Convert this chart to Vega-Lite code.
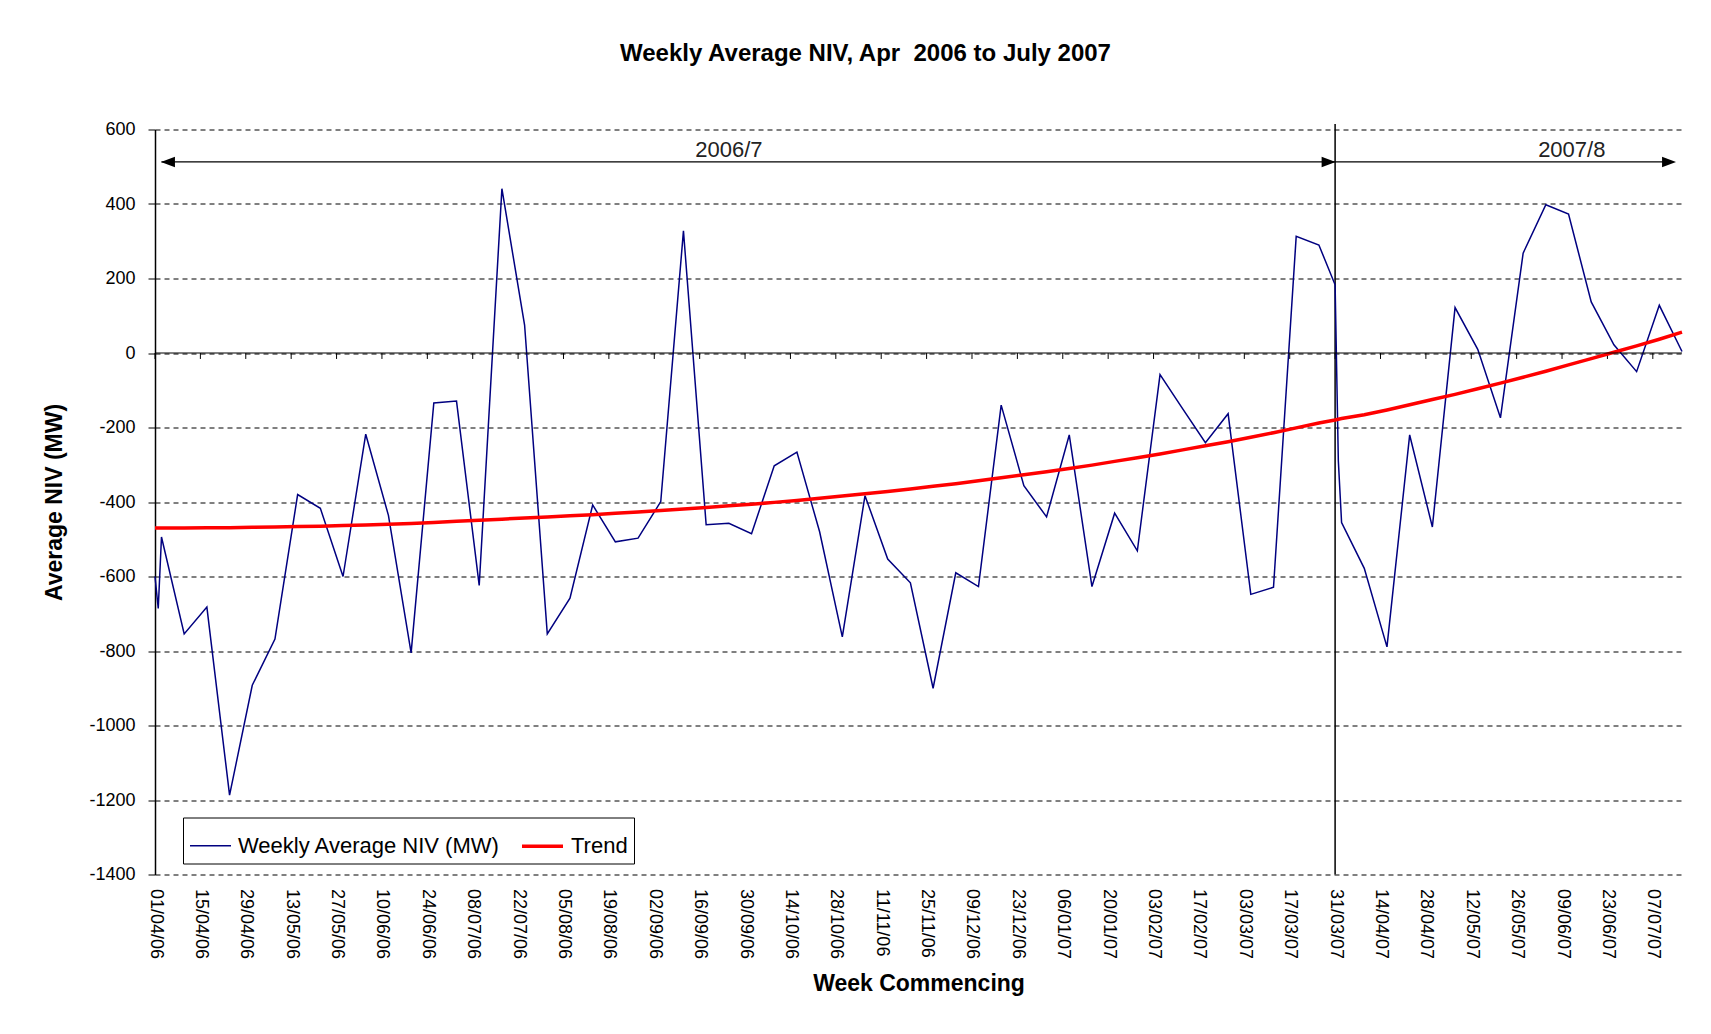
{
  "$schema": "https://vega.github.io/schema/vega-lite/v6.json",
  "autosize": {"type": "none"},
  "width": 1527,
  "height": 745,
  "padding": {"left": 155, "top": 129.5, "right": 29, "bottom": 159.5},
  "background": "white",
  "config": {"font": "Liberation Sans", "view": {"stroke": null}},
  "title": {"text": "Weekly Average NIV, Apr\u00a0 2006 to July 2007", "fontSize": 24, "fontWeight": "bold", "color": "black", "anchor": "middle", "dx": -53, "offset": 55},
  "datasets": {
    "niv": [
      {"week": "2006-04-01", "Weekly Average NIV (MW)": -600, "Trend": -470},
      {"week": "2006-04-02", "Weekly Average NIV (MW)": -686, "Trend": -470},
      {"week": "2006-04-03", "Weekly Average NIV (MW)": -494, "Trend": -470},
      {"week": "2006-04-10", "Weekly Average NIV (MW)": -754, "Trend": -470},
      {"week": "2006-04-17", "Weekly Average NIV (MW)": -682, "Trend": -469},
      {"week": "2006-04-24", "Weekly Average NIV (MW)": -1187, "Trend": -469},
      {"week": "2006-05-01", "Weekly Average NIV (MW)": -892, "Trend": -468},
      {"week": "2006-05-08", "Weekly Average NIV (MW)": -768, "Trend": -467},
      {"week": "2006-05-15", "Weekly Average NIV (MW)": -380, "Trend": -466},
      {"week": "2006-05-22", "Weekly Average NIV (MW)": -417, "Trend": -465},
      {"week": "2006-05-29", "Weekly Average NIV (MW)": -600, "Trend": -463},
      {"week": "2006-06-05", "Weekly Average NIV (MW)": -218, "Trend": -462},
      {"week": "2006-06-12", "Weekly Average NIV (MW)": -436, "Trend": -460},
      {"week": "2006-06-19", "Weekly Average NIV (MW)": -805, "Trend": -458},
      {"week": "2006-06-26", "Weekly Average NIV (MW)": -134, "Trend": -455},
      {"week": "2006-07-03", "Weekly Average NIV (MW)": -129, "Trend": -452},
      {"week": "2006-07-10", "Weekly Average NIV (MW)": -624, "Trend": -449},
      {"week": "2006-07-17", "Weekly Average NIV (MW)": 441, "Trend": -446},
      {"week": "2006-07-24", "Weekly Average NIV (MW)": 75, "Trend": -443},
      {"week": "2006-07-31", "Weekly Average NIV (MW)": -754, "Trend": -440},
      {"week": "2006-08-07", "Weekly Average NIV (MW)": -658, "Trend": -437},
      {"week": "2006-08-14", "Weekly Average NIV (MW)": -408, "Trend": -434},
      {"week": "2006-08-21", "Weekly Average NIV (MW)": -507, "Trend": -430},
      {"week": "2006-08-28", "Weekly Average NIV (MW)": -497, "Trend": -427},
      {"week": "2006-09-04", "Weekly Average NIV (MW)": -399, "Trend": -423},
      {"week": "2006-09-11", "Weekly Average NIV (MW)": 328, "Trend": -419},
      {"week": "2006-09-18", "Weekly Average NIV (MW)": -461, "Trend": -415},
      {"week": "2006-09-25", "Weekly Average NIV (MW)": -457, "Trend": -410},
      {"week": "2006-10-02", "Weekly Average NIV (MW)": -485, "Trend": -406},
      {"week": "2006-10-09", "Weekly Average NIV (MW)": -303, "Trend": -401},
      {"week": "2006-10-16", "Weekly Average NIV (MW)": -266, "Trend": -396},
      {"week": "2006-10-23", "Weekly Average NIV (MW)": -480, "Trend": -390},
      {"week": "2006-10-30", "Weekly Average NIV (MW)": -762, "Trend": -384},
      {"week": "2006-11-06", "Weekly Average NIV (MW)": -383, "Trend": -378},
      {"week": "2006-11-13", "Weekly Average NIV (MW)": -553, "Trend": -372},
      {"week": "2006-11-20", "Weekly Average NIV (MW)": -617, "Trend": -365},
      {"week": "2006-11-27", "Weekly Average NIV (MW)": -900, "Trend": -358},
      {"week": "2006-12-04", "Weekly Average NIV (MW)": -590, "Trend": -351},
      {"week": "2006-12-11", "Weekly Average NIV (MW)": -627, "Trend": -343},
      {"week": "2006-12-18", "Weekly Average NIV (MW)": -140, "Trend": -335},
      {"week": "2006-12-25", "Weekly Average NIV (MW)": -356, "Trend": -327},
      {"week": "2007-01-01", "Weekly Average NIV (MW)": -440, "Trend": -319},
      {"week": "2007-01-08", "Weekly Average NIV (MW)": -220, "Trend": -310},
      {"week": "2007-01-15", "Weekly Average NIV (MW)": -627, "Trend": -301},
      {"week": "2007-01-22", "Weekly Average NIV (MW)": -430, "Trend": -291},
      {"week": "2007-01-29", "Weekly Average NIV (MW)": -531, "Trend": -281},
      {"week": "2007-02-05", "Weekly Average NIV (MW)": -58, "Trend": -271},
      {"week": "2007-02-12", "Weekly Average NIV (MW)": -150, "Trend": -260},
      {"week": "2007-02-19", "Weekly Average NIV (MW)": -241, "Trend": -249},
      {"week": "2007-02-26", "Weekly Average NIV (MW)": -163, "Trend": -238},
      {"week": "2007-03-05", "Weekly Average NIV (MW)": -648, "Trend": -226},
      {"week": "2007-03-12", "Weekly Average NIV (MW)": -629, "Trend": -214},
      {"week": "2007-03-19", "Weekly Average NIV (MW)": 313, "Trend": -201},
      {"week": "2007-03-26", "Weekly Average NIV (MW)": 290, "Trend": -188},
      {"week": "2007-03-31", "Weekly Average NIV (MW)": 183, "Trend": -180},
      {"week": "2007-04-01", "Weekly Average NIV (MW)": -290, "Trend": -178},
      {"week": "2007-04-02", "Weekly Average NIV (MW)": -455, "Trend": -176},
      {"week": "2007-04-09", "Weekly Average NIV (MW)": -578, "Trend": -166},
      {"week": "2007-04-16", "Weekly Average NIV (MW)": -789, "Trend": -153},
      {"week": "2007-04-23", "Weekly Average NIV (MW)": -220, "Trend": -139},
      {"week": "2007-04-30", "Weekly Average NIV (MW)": -467, "Trend": -125},
      {"week": "2007-05-07", "Weekly Average NIV (MW)": 122, "Trend": -111},
      {"week": "2007-05-14", "Weekly Average NIV (MW)": 10, "Trend": -96},
      {"week": "2007-05-21", "Weekly Average NIV (MW)": -174, "Trend": -81},
      {"week": "2007-05-28", "Weekly Average NIV (MW)": 268, "Trend": -65},
      {"week": "2007-06-04", "Weekly Average NIV (MW)": 398, "Trend": -49},
      {"week": "2007-06-11", "Weekly Average NIV (MW)": 373, "Trend": -32},
      {"week": "2007-06-18", "Weekly Average NIV (MW)": 137, "Trend": -15},
      {"week": "2007-06-25", "Weekly Average NIV (MW)": 22, "Trend": 2},
      {"week": "2007-07-02", "Weekly Average NIV (MW)": -50, "Trend": 19},
      {"week": "2007-07-09", "Weekly Average NIV (MW)": 128, "Trend": 37},
      {"week": "2007-07-16", "Weekly Average NIV (MW)": 4, "Trend": 56}
    ],
    "ticks": [
      {"week": "2006-04-01"}, {"week": "2006-04-15"}, {"week": "2006-04-29"}, {"week": "2006-05-13"},
      {"week": "2006-05-27"}, {"week": "2006-06-10"}, {"week": "2006-06-24"}, {"week": "2006-07-08"},
      {"week": "2006-07-22"}, {"week": "2006-08-05"}, {"week": "2006-08-19"}, {"week": "2006-09-02"},
      {"week": "2006-09-16"}, {"week": "2006-09-30"}, {"week": "2006-10-14"}, {"week": "2006-10-28"},
      {"week": "2006-11-11"}, {"week": "2006-11-25"}, {"week": "2006-12-09"}, {"week": "2006-12-23"},
      {"week": "2007-01-06"}, {"week": "2007-01-20"}, {"week": "2007-02-03"}, {"week": "2007-02-17"},
      {"week": "2007-03-03"}, {"week": "2007-03-17"}, {"week": "2007-03-31"}, {"week": "2007-04-14"},
      {"week": "2007-04-28"}, {"week": "2007-05-12"}, {"week": "2007-05-26"}, {"week": "2007-06-09"},
      {"week": "2007-06-23"}, {"week": "2007-07-07"}
    ],
    "divider": [{"week": "2007-03-31"}],
    "spans": [
      {"start": "2006-04-03", "end": "2007-03-31"},
      {"start": "2007-03-31", "end": "2007-07-12"}
    ],
    "heads": [
      {"week": "2006-04-05", "dir": "left"},
      {"week": "2007-03-29", "dir": "right"},
      {"week": "2007-07-12", "dir": "right"}
    ],
    "labels": [
      {"week": "2006-09-25", "label": "2006/7"},
      {"week": "2007-06-12", "label": "2007/8"}
    ]
  },
  "layer": [
    {
      "data": {"name": "ticks"},
      "mark": {"type": "rule", "color": "black", "strokeWidth": 1},
      "encoding": {
        "x": {"field": "week", "type": "temporal"},
        "y": {"datum": 0},
        "y2": {"datum": -16}
      }
    },
    {
      "data": {"name": "divider"},
      "mark": {"type": "rule", "color": "black", "strokeWidth": 1.5, "clip": false},
      "encoding": {
        "x": {"field": "week", "type": "temporal"},
        "y": {"datum": 615},
        "y2": {"datum": -1400}
      }
    },
    {
      "data": {"name": "spans"},
      "mark": {"type": "rule", "color": "black", "strokeWidth": 1.2},
      "encoding": {
        "x": {"field": "start", "type": "temporal"},
        "x2": {"field": "end"},
        "y": {"datum": 513}
      }
    },
    {
      "data": {"name": "heads"},
      "mark": {"type": "point", "filled": true, "color": "black", "opacity": 1, "size": 196},
      "encoding": {
        "x": {"field": "week", "type": "temporal"},
        "y": {"datum": 513},
        "shape": {"field": "dir", "type": "nominal", "scale": {"domain": ["left", "right"], "range": ["M1,-0.75L-1,0L1,0.75Z", "M-1,-0.75L1,0L-1,0.75Z"]}, "legend": null}
      }
    },
    {
      "data": {"name": "labels"},
      "mark": {"type": "text", "fontSize": 22, "color": "#222222", "baseline": "middle", "align": "center"},
      "encoding": {
        "x": {"field": "week", "type": "temporal"},
        "y": {"datum": 546},
        "text": {"field": "label"}
      }
    },
    {
      "data": {"name": "niv"},
      "transform": [{"fold": ["Weekly Average NIV (MW)", "Trend"], "as": ["series", "MW"]}],
      "mark": {"type": "line", "interpolate": "linear"},
      "encoding": {
        "x": {
          "field": "week", "type": "temporal",
          "scale": {"type": "utc", "domain": [{"year": 2006, "month": 4, "date": 1, "utc": true}, {"year": 2007, "month": 7, "date": 16, "utc": true}]},
          "axis": {
            "title": "Week Commencing", "titleFontSize": 23, "titleFontWeight": "bold", "titleColor": "black", "titlePadding": 14,
            "format": "%d/%m/%y", "labelAngle": 90, "labelAlign": "left", "labelBaseline": "middle",
            "labelFontSize": 18, "labelColor": "black", "labelPadding": 14, "labelOverlap": false, "labelFlush": false,
            "ticks": false, "tickSize": 0, "domain": false, "grid": false,
            "values": [
              {"year": 2006, "month": 4, "date": 1, "utc": true}, {"year": 2006, "month": 4, "date": 15, "utc": true},
              {"year": 2006, "month": 4, "date": 29, "utc": true}, {"year": 2006, "month": 5, "date": 13, "utc": true},
              {"year": 2006, "month": 5, "date": 27, "utc": true}, {"year": 2006, "month": 6, "date": 10, "utc": true},
              {"year": 2006, "month": 6, "date": 24, "utc": true}, {"year": 2006, "month": 7, "date": 8, "utc": true},
              {"year": 2006, "month": 7, "date": 22, "utc": true}, {"year": 2006, "month": 8, "date": 5, "utc": true},
              {"year": 2006, "month": 8, "date": 19, "utc": true}, {"year": 2006, "month": 9, "date": 2, "utc": true},
              {"year": 2006, "month": 9, "date": 16, "utc": true}, {"year": 2006, "month": 9, "date": 30, "utc": true},
              {"year": 2006, "month": 10, "date": 14, "utc": true}, {"year": 2006, "month": 10, "date": 28, "utc": true},
              {"year": 2006, "month": 11, "date": 11, "utc": true}, {"year": 2006, "month": 11, "date": 25, "utc": true},
              {"year": 2006, "month": 12, "date": 9, "utc": true}, {"year": 2006, "month": 12, "date": 23, "utc": true},
              {"year": 2007, "month": 1, "date": 6, "utc": true}, {"year": 2007, "month": 1, "date": 20, "utc": true},
              {"year": 2007, "month": 2, "date": 3, "utc": true}, {"year": 2007, "month": 2, "date": 17, "utc": true},
              {"year": 2007, "month": 3, "date": 3, "utc": true}, {"year": 2007, "month": 3, "date": 17, "utc": true},
              {"year": 2007, "month": 3, "date": 31, "utc": true}, {"year": 2007, "month": 4, "date": 14, "utc": true},
              {"year": 2007, "month": 4, "date": 28, "utc": true}, {"year": 2007, "month": 5, "date": 12, "utc": true},
              {"year": 2007, "month": 5, "date": 26, "utc": true}, {"year": 2007, "month": 6, "date": 9, "utc": true},
              {"year": 2007, "month": 6, "date": 23, "utc": true}, {"year": 2007, "month": 7, "date": 7, "utc": true}
            ]
          }
        },
        "y": {
          "field": "MW", "type": "quantitative",
          "scale": {"domain": [-1400, 600], "nice": false, "zero": false},
          "axis": {
            "title": "Average NIV (MW)", "titleFontSize": 23, "titleFontWeight": "bold", "titleColor": "black", "titlePadding": 22,
            "values": [-1400, -1200, -1000, -800, -600, -400, -200, 0, 200, 400, 600],
            "labelExpr": "'' + datum.value", "labelFontSize": 18, "labelColor": "black", "labelPadding": 13,
            "tickSize": 7, "tickColor": "black", "domainColor": "black", "domainWidth": 1.5,
            "grid": true, "gridColor": "black", "gridDash": [5, 4], "gridWidth": 1
          }
        },
        "color": {
          "field": "series", "type": "nominal",
          "scale": {"domain": ["Weekly Average NIV (MW)", "Trend"], "range": ["#000080", "#FF0000"]},
          "legend": {
            "title": null, "orient": "none", "legendX": 28, "legendY": 688, "direction": "horizontal",
            "strokeColor": "black", "fillColor": "white", "padding": 6, "cornerRadius": 0,
            "labelFontSize": 22, "labelColor": "black", "labelLimit": 500, "labelOffset": 6,
            "symbolType": "stroke", "symbolSize": 1681, "columnPadding": 14
          }
        },
        "strokeWidth": {
          "field": "series", "type": "nominal",
          "scale": {"domain": ["Weekly Average NIV (MW)", "Trend"], "range": [1.5, 3.5], "padding": 0},
          "legend": {
            "title": null, "orient": "none", "legendX": 28, "legendY": 688, "direction": "horizontal",
            "strokeColor": "black", "fillColor": "white", "padding": 6, "cornerRadius": 0,
            "labelFontSize": 22, "labelColor": "black", "labelLimit": 500, "labelOffset": 6,
            "symbolType": "stroke", "symbolSize": 1681, "columnPadding": 14
          }
        }
      }
    },
    {
      "data": {"values": [{}]},
      "mark": {"type": "rule", "color": "black", "strokeWidth": 1.2},
      "encoding": {"y": {"datum": 0}}
    }
  ]
}
